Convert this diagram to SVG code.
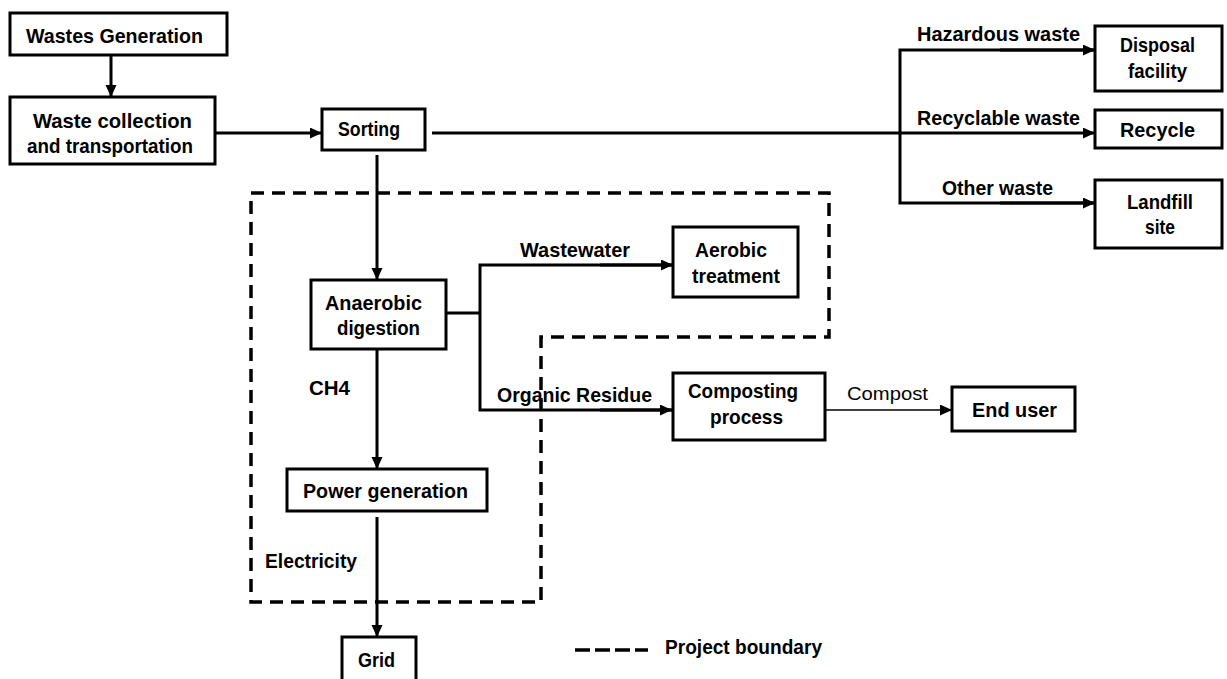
<svg xmlns="http://www.w3.org/2000/svg" width="1227" height="679" viewBox="0 0 1227 679">
<style>
.box{fill:#fff;stroke:#000;stroke-width:3}
.t{font-family:"Liberation Sans",Arial,sans-serif;font-size:21px;font-weight:bold;fill:#000}
.r{font-family:"Liberation Sans",Arial,sans-serif;font-size:18px;fill:#000}
.c{fill:none;stroke:#000;stroke-width:3}
.thin{fill:none;stroke:#000;stroke-width:1.5}
.dash{fill:none;stroke:#000;stroke-width:3.5;stroke-dasharray:13 8}
</style>
<defs>
<marker id="ah" markerUnits="userSpaceOnUse" markerWidth="13" markerHeight="12" refX="12" refY="5.5" orient="auto">
<path d="M0,0 L12,5.5 L0,11 Z" fill="#000"/>
</marker>
</defs>
<rect width="1227" height="679" fill="#fff"/>
<g id="boundary">
<path class="dash" d="M251,193 H829 V337 H541 V602 H251 Z"/>
</g>
<g id="connectors">
<path class="c" d="M111,56 V97" marker-end="url(#ah)"/>
<path class="c" d="M215,133 H322" marker-end="url(#ah)"/>
<path class="c" d="M432,133 H1095" marker-end="url(#ah)"/>
<path class="c" d="M1095,50 H900 V203 H1095" />
<path class="c" d="M1000,50 H1095" marker-end="url(#ah)"/>
<path class="c" d="M1000,203 H1095" marker-end="url(#ah)"/>
<path class="c" d="M377,155 V280" marker-end="url(#ah)"/>
<path class="c" d="M446,313 H480"/>
<path class="c" d="M673,265 H480 V410 H672"/>
<path class="c" d="M600,265 H673" marker-end="url(#ah)"/>
<path class="c" d="M600,410 H672" marker-end="url(#ah)"/>
<path class="thin" d="M825,410 H952" marker-end="url(#ah)"/>
<path class="c" d="M377,349 V469" marker-end="url(#ah)"/>
<path class="c" d="M377,517 V637" marker-end="url(#ah)"/>
</g>
<g id="labels">
<text class="t" x="917" y="41" textLength="163" lengthAdjust="spacingAndGlyphs">Hazardous waste</text>
<text class="t" x="917" y="125" textLength="163" lengthAdjust="spacingAndGlyphs">Recyclable waste</text>
<text class="t" x="942" y="195" textLength="111" lengthAdjust="spacingAndGlyphs">Other waste</text>
<text class="t" x="520" y="257" textLength="110" lengthAdjust="spacingAndGlyphs">Wastewater</text>
<text class="t" x="497" y="402" textLength="155" lengthAdjust="spacingAndGlyphs">Organic Residue</text>
<text class="r" x="847" y="400" textLength="81" lengthAdjust="spacingAndGlyphs">Compost</text>
<text class="t" x="309" y="395" textLength="41" lengthAdjust="spacingAndGlyphs">CH4</text>
<text class="t" x="265" y="568" textLength="92" lengthAdjust="spacingAndGlyphs">Electricity</text>
</g>
<g id="wastes-generation">
<rect class="box" x="10" y="13" width="217" height="42"/>
<text class="t" x="26" y="43" textLength="177" lengthAdjust="spacingAndGlyphs">Wastes Generation</text>
</g>
<g id="waste-collection">
<rect class="box" x="10" y="97" width="205" height="67"/>
<text class="t" x="33" y="128" textLength="159" lengthAdjust="spacingAndGlyphs">Waste collection</text>
<text class="t" x="27" y="153" textLength="166" lengthAdjust="spacingAndGlyphs">and transportation</text>
</g>
<g id="sorting">
<rect class="box" x="322" y="109" width="103" height="41"/>
<text class="t" x="338" y="136" textLength="62" lengthAdjust="spacingAndGlyphs">Sorting</text>
</g>
<g id="disposal-facility">
<rect class="box" x="1095" y="26" width="127" height="65"/>
<text class="t" x="1120" y="52" textLength="75" lengthAdjust="spacingAndGlyphs">Disposal</text>
<text class="t" x="1128" y="78" textLength="59" lengthAdjust="spacingAndGlyphs">facility</text>
</g>
<g id="recycle">
<rect class="box" x="1095" y="110" width="127" height="38"/>
<text class="t" x="1120" y="137" textLength="75" lengthAdjust="spacingAndGlyphs">Recycle</text>
</g>
<g id="landfill-site">
<rect class="box" x="1095" y="180" width="127" height="68"/>
<text class="t" x="1127" y="209" textLength="66" lengthAdjust="spacingAndGlyphs">Landfill</text>
<text class="t" x="1145" y="234" textLength="30" lengthAdjust="spacingAndGlyphs">site</text>
</g>
<g id="anaerobic-digestion">
<rect class="box" x="311" y="280" width="135" height="69"/>
<text class="t" x="325" y="310" textLength="97" lengthAdjust="spacingAndGlyphs">Anaerobic</text>
<text class="t" x="337" y="335" textLength="83" lengthAdjust="spacingAndGlyphs">digestion</text>
</g>
<g id="aerobic-treatment">
<rect class="box" x="673" y="227" width="125" height="70"/>
<text class="t" x="695" y="257" textLength="72" lengthAdjust="spacingAndGlyphs">Aerobic</text>
<text class="t" x="692" y="283" textLength="88" lengthAdjust="spacingAndGlyphs">treatment</text>
</g>
<g id="composting-process">
<rect class="box" x="673" y="373" width="152" height="67"/>
<text class="t" x="688" y="398" textLength="110" lengthAdjust="spacingAndGlyphs">Composting</text>
<text class="t" x="710" y="424" textLength="73" lengthAdjust="spacingAndGlyphs">process</text>
</g>
<g id="end-user">
<rect class="box" x="952" y="387" width="123" height="44"/>
<text class="t" x="972" y="417" textLength="85" lengthAdjust="spacingAndGlyphs">End user</text>
</g>
<g id="power-generation">
<rect class="box" x="287" y="469" width="200" height="42"/>
<text class="t" x="303" y="498" textLength="165" lengthAdjust="spacingAndGlyphs">Power generation</text>
</g>
<g id="grid">
<rect class="box" x="342" y="637" width="74" height="50"/>
<text class="t" x="358" y="667" textLength="37" lengthAdjust="spacingAndGlyphs">Grid</text>
</g>
<g id="legend">
<path d="M575,650 H648" fill="none" stroke="#000" stroke-width="3.5" stroke-dasharray="15 5"/>
<text class="t" x="665" y="654" textLength="157" lengthAdjust="spacingAndGlyphs">Project boundary</text>
</g>
</svg>
